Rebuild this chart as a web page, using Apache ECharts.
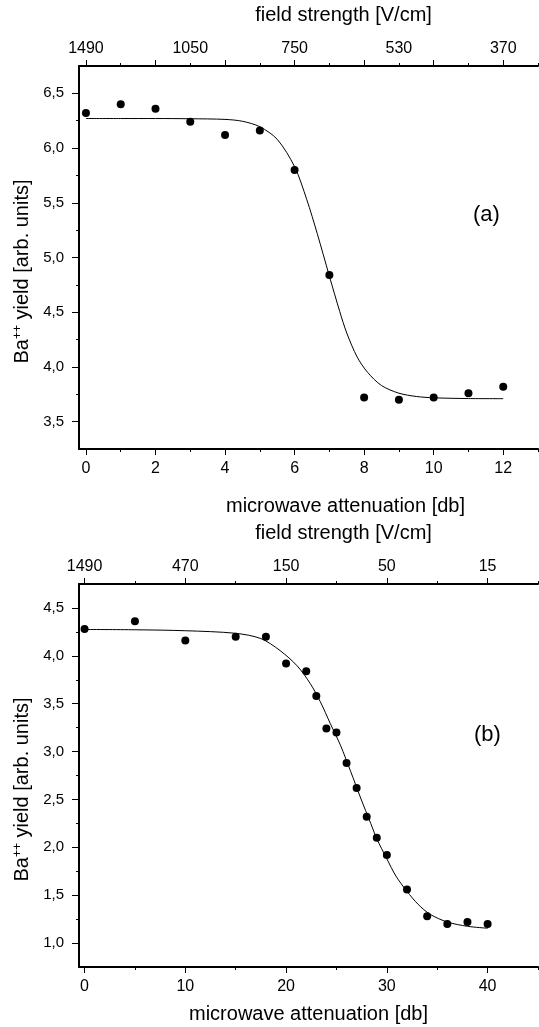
<!DOCTYPE html>
<html><head><meta charset="utf-8">
<script src="https://cdn.jsdelivr.net/npm/echarts@6/dist/echarts.min.js"></script>
<style>html,body{margin:0;padding:0;background:#fff}#c{width:539px;height:1027px}</style>
</head><body><div id="c"></div>
<script>
// ---- Panel (a) data ----
const attA = [0, 1, 2, 3, 4, 5, 6, 7, 8, 9, 10, 11, 12];
const yieldA = [6.32, 6.40, 6.36, 6.24, 6.12, 6.16, 5.80, 4.84, 3.72, 3.70, 3.72, 3.76, 3.82];
const fitAttA = [0, 1, 2, 3, 4, 4.5, 5, 5.5, 6, 6.35, 6.65, 7, 7.3, 7.5, 7.8, 8.1, 8.5, 9, 9.5, 10, 11, 12];
const fitYieldA = [6.27, 6.27, 6.27, 6.268, 6.262, 6.245, 6.195, 6.08, 5.83, 5.53, 5.22, 4.83, 4.505, 4.31, 4.09, 3.95, 3.83, 3.76, 3.73, 3.718, 3.711, 3.71];
const fieldTicksA = [0, 3, 6, 9, 12];
const fieldLabelsA = ['1490', '1050', '750', '530', '370'];
const xMajorA = [0, 2, 4, 6, 8, 10, 12];
const xMinorA = [1, 3, 5, 7, 9, 11, 13];
const yMajorA = [3.5, 4.0, 4.5, 5.0, 5.5, 6.0, 6.5];
const yMinorA = [3.75, 4.25, 4.75, 5.25, 5.75, 6.25];

// ---- Panel (b) data ----
const attB = [0, 5, 10, 15, 18, 20, 22, 23, 24, 25, 26, 27, 28, 29, 30, 32, 34, 36, 38, 40];
const yieldB = [4.28, 4.36, 4.16, 4.20, 4.20, 3.92, 3.84, 3.58, 3.24, 3.20, 2.88, 2.62, 2.32, 2.10, 1.92, 1.56, 1.28, 1.20, 1.22, 1.20];
const fitAttB = [0, 5, 10, 15, 17.5, 19.4, 21.1, 22.4, 23.4, 24.4, 25.4, 26.4, 27.4, 28.4, 29.0, 30.0, 30.9, 32.0, 33.1, 34.3, 36, 38, 40];
const fitYieldB = [4.275, 4.272, 4.262, 4.235, 4.18, 4.055, 3.895, 3.71, 3.52, 3.29, 3.065, 2.795, 2.515, 2.25, 2.09, 1.88, 1.70, 1.54, 1.405, 1.30, 1.22, 1.175, 1.155];
const fieldTicksB = [0, 10, 20, 30, 40];
const fieldLabelsB = ['1490', '470', '150', '50', '15'];
const xMajorB = [0, 10, 20, 30, 40];
const xMinorB = [5, 15, 25, 35, 45];
const yMajorB = [1.0, 1.5, 2.0, 2.5, 3.0, 3.5, 4.0, 4.5];
const yMinorB = [1.25, 1.75, 2.25, 2.75, 3.25, 3.75, 4.25];

const FONT = 'Liberation Sans, Arial, sans-serif';
const BLACK = '#000';
const zip = (a, b) => a.map((v, i) => [v, b[i]]);

function xMain(grid, min, max, pos, major, labelVals, fmt, name, gap, namePad, margin) {
  return {
    type: 'value', gridIndex: grid, position: pos, min: min, max: max,
    splitLine: {show: false},
    axisLine: {show: true, onZero: false, lineStyle: {color: BLACK, width: 2}},
    axisTick: {show: true, customValues: major, length: 6, lineStyle: {color: BLACK, width: 1}},
    axisLabel: {show: true, customValues: labelVals, formatter: fmt, margin: margin,
      fontFamily: FONT, fontSize: 16, color: BLACK},
    name: name, nameLocation: 'middle', nameGap: gap,
    nameTextStyle: {fontFamily: FONT, fontSize: 20, color: BLACK, padding: namePad}
  };
}
function xMinor(grid, min, max, pos, minor) {
  return {
    type: 'value', gridIndex: grid, position: pos, min: min, max: max,
    splitLine: {show: false}, axisLine: {show: false, onZero: false},
    axisLabel: {show: false},
    axisTick: {show: true, customValues: minor, length: 3, lineStyle: {color: BLACK, width: 1}}
  };
}
function yMain(grid, min, max, major, nameGap) {
  return {
    type: 'value', gridIndex: grid, position: 'left', min: min, max: max,
    splitLine: {show: false},
    axisLine: {show: true, onZero: false, lineStyle: {color: BLACK, width: 2}},
    axisTick: {show: true, customValues: major, length: 7, lineStyle: {color: BLACK, width: 1}},
    axisLabel: {show: true, customValues: major, margin: 15,
      formatter: v => v.toFixed(1).replace('.', ','),
      fontFamily: FONT, fontSize: 15, color: BLACK},
    name: '{b|Ba}{s|++}{b| yield [arb. units]}',
    nameLocation: 'middle', nameGap: nameGap, nameRotate: 90,
    nameTextStyle: {fontFamily: FONT, fontSize: 20, color: BLACK, padding: [0, 28, 0, 0],
      rich: {
        b: {fontFamily: FONT, fontSize: 20, color: BLACK},
        s: {fontFamily: FONT, fontSize: 12, color: BLACK, padding: [0, 0, 10, 0]}
      }}
  };
}
function yMinor(grid, min, max, minor) {
  return {
    type: 'value', gridIndex: grid, position: 'left', min: min, max: max,
    splitLine: {show: false}, axisLine: {show: false, onZero: false},
    axisLabel: {show: false},
    axisTick: {show: true, customValues: minor, length: 3, lineStyle: {color: BLACK, width: 1}}
  };
}
const fmtNum = v => String(v);
const fmtField = (ticks, labels) => v => {
  const i = ticks.indexOf(v);
  return i >= 0 ? labels[i] : '';
};

const chart = echarts.init(document.getElementById('c'), null, {renderer: 'canvas'});
const option = {
  backgroundColor: '#fff',
  animation: false,
  grid: [
    {left: 79, top: 66, width: 459, height: 383},
    {left: 79, top: 584, width: 459, height: 383}
  ],
  xAxis: [
    xMain(0, -0.2, 13, 'bottom', xMajorA, xMajorA, fmtNum, 'microwave attenuation [db]', 47, [0, 0, 0, 74], 12),
    xMinor(0, -0.2, 13, 'bottom', xMinorA),
    xMain(0, -0.2, 13, 'top', xMajorA, fieldTicksA, fmtField(fieldTicksA, fieldLabelsA), 'field strength [V/cm]', 41, [0, 0, 0, 70], 9),
    xMinor(0, -0.2, 13, 'top', xMinorA),
    xMain(1, -0.55, 45, 'bottom', xMajorB, xMajorB, fmtNum, 'microwave attenuation [db]', 37, [0, 0, 0, 0], 12),
    xMinor(1, -0.55, 45, 'bottom', xMinorB),
    xMain(1, -0.55, 45, 'top', xMajorB, fieldTicksB, fmtField(fieldTicksB, fieldLabelsB), 'field strength [V/cm]', 41, [0, 0, 0, 70], 9),
    xMinor(1, -0.55, 45, 'top', xMinorB)
  ],
  yAxis: [
    yMain(0, 3.25, 6.75, yMajorA, 41),
    yMinor(0, 3.25, 6.75, yMinorA),
    yMain(1, 0.75, 4.75, yMajorB, 41),
    yMinor(1, 0.75, 4.75, yMinorB)
  ],
  series: [
    {type: 'line', xAxisIndex: 0, yAxisIndex: 0, data: zip(fitAttA, fitYieldA), showSymbol: false,
      smooth: 0.3, lineStyle: {color: BLACK, width: 1}, silent: true},
    {type: 'scatter', xAxisIndex: 0, yAxisIndex: 0, data: zip(attA, yieldA), symbol: 'circle',
      symbolSize: 8, itemStyle: {color: BLACK, opacity: 1}},
    {type: 'line', xAxisIndex: 4, yAxisIndex: 2, data: zip(fitAttB, fitYieldB), showSymbol: false,
      smooth: 0.3, lineStyle: {color: BLACK, width: 1}, silent: true},
    {type: 'scatter', xAxisIndex: 4, yAxisIndex: 2, data: zip(attB, yieldB), symbol: 'circle',
      symbolSize: 8, itemStyle: {color: BLACK, opacity: 1}}
  ],
  graphic: [
    {type: 'text', left: 473, top: 204, style: {text: '(a)', fontFamily: FONT, fontSize: 22, fill: BLACK}},
    {type: 'text', left: 474, top: 724, style: {text: '(b)', fontFamily: FONT, fontSize: 22, fill: BLACK}}
  ]
};
chart.setOption(option);
</script>
</body></html>
